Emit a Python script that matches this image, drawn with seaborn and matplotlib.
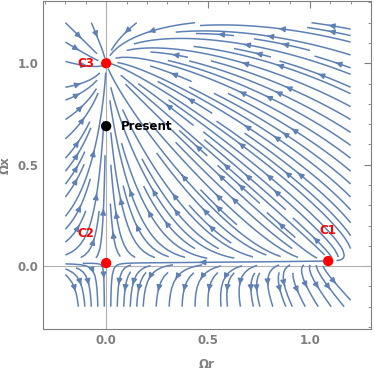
import numpy as np
import pandas as pd
import matplotlib
matplotlib.use("Agg")
import matplotlib.pyplot as plt
import seaborn as sns
from matplotlib.ticker import MultipleLocator

# Critical points
point_names = ["C1", "C2", "C3", "Present"]
omega_r = [1.09, 0.0, 0.0, 0.0]
omega_x = [0.025, 0.015, 1.0, 0.69]
point_colors = ["#FF0000", "#FF0000", "#FF0000", "#000000"]

# Field parameters (fixed points of the flow)
C1_R, C1_X = omega_r[0], omega_x[0]
C2_X = omega_x[1]

STREAM_BLUE = "#5E81B5"
GREY = "#7F7F7F"

sns.set_style("white")
plt.rcParams['font.family'] = ['DejaVu Sans']

fig = plt.figure(figsize=(3.74, 3.74), dpi=100)
ax = fig.add_axes([43 / 374, 45 / 374, 328 / 374, 328 / 374])

# Vector field on the streamed square
r = np.linspace(-0.2, 1.2, 140)
xx = np.linspace(-0.2, 1.2, 140)
R, X = np.meshgrid(r, xx)
base = C2_X + (C1_X - C2_X) * R / C1_R
dR = R * (R - C1_R - 3 * (X - base))
dX = (X - base) * (3 + R - 3 * X)
ax.streamplot(R, X, dR, dX, density=1.5, color=STREAM_BLUE, linewidth=1.1,
              arrowsize=0.8, arrowstyle='-|>', minlength=0.12)

ax.axhline(0, color="#B0B0B0", lw=0.8, zorder=1)
ax.axvline(0, color="#B0B0B0", lw=0.8, zorder=1)

pts = pd.DataFrame({"r": omega_r, "x": omega_x, "name": point_names})
sns.scatterplot(data=pts, x="r", y="x", hue="name",
                palette=dict(zip(point_names, point_colors)),
                s=55, edgecolor="none", legend=False, ax=ax, zorder=5)

ax.text(-0.1, 1.0, "C3", color="#FF0000", fontweight="bold", fontsize=8.5,
        ha="center", va="center")
ax.text(-0.1, 0.16, "C2", color="#FF0000", fontweight="bold", fontsize=8.5,
        ha="center", va="center")
ax.text(1.087, 0.175, "C1", color="#FF0000", fontweight="bold", fontsize=8.5,
        ha="center", va="center")
ax.text(0.2, 0.687, "Present", color="black", fontweight="bold", fontsize=8.5,
        ha="center", va="center")

ax.set_xlim(-0.31, 1.30)
ax.set_ylim(-0.31, 1.307)
ax.xaxis.set_major_locator(MultipleLocator(0.5))
ax.yaxis.set_major_locator(MultipleLocator(0.5))
ax.xaxis.set_minor_locator(MultipleLocator(0.1))
ax.yaxis.set_minor_locator(MultipleLocator(0.1))
ax.tick_params(which="both", direction="in", top=True, right=True, color=GREY,
               labelcolor=GREY, labelsize=8.5)
ax.tick_params(which="major", length=5, width=0.8)
ax.tick_params(which="minor", length=2.5, width=0.6)
for lab in ax.get_xticklabels() + ax.get_yticklabels():
    lab.set_fontweight("bold")
for s in ax.spines.values():
    s.set_color(GREY)
    s.set_linewidth(0.8)

ax.set_xlabel("Ωr", color=GREY, fontweight="bold", fontsize=8.5, labelpad=8)
ax.set_ylabel("Ωx", color=GREY, fontweight="bold", fontsize=8.5, labelpad=4)

fig.savefig("out.png", dpi=100)
